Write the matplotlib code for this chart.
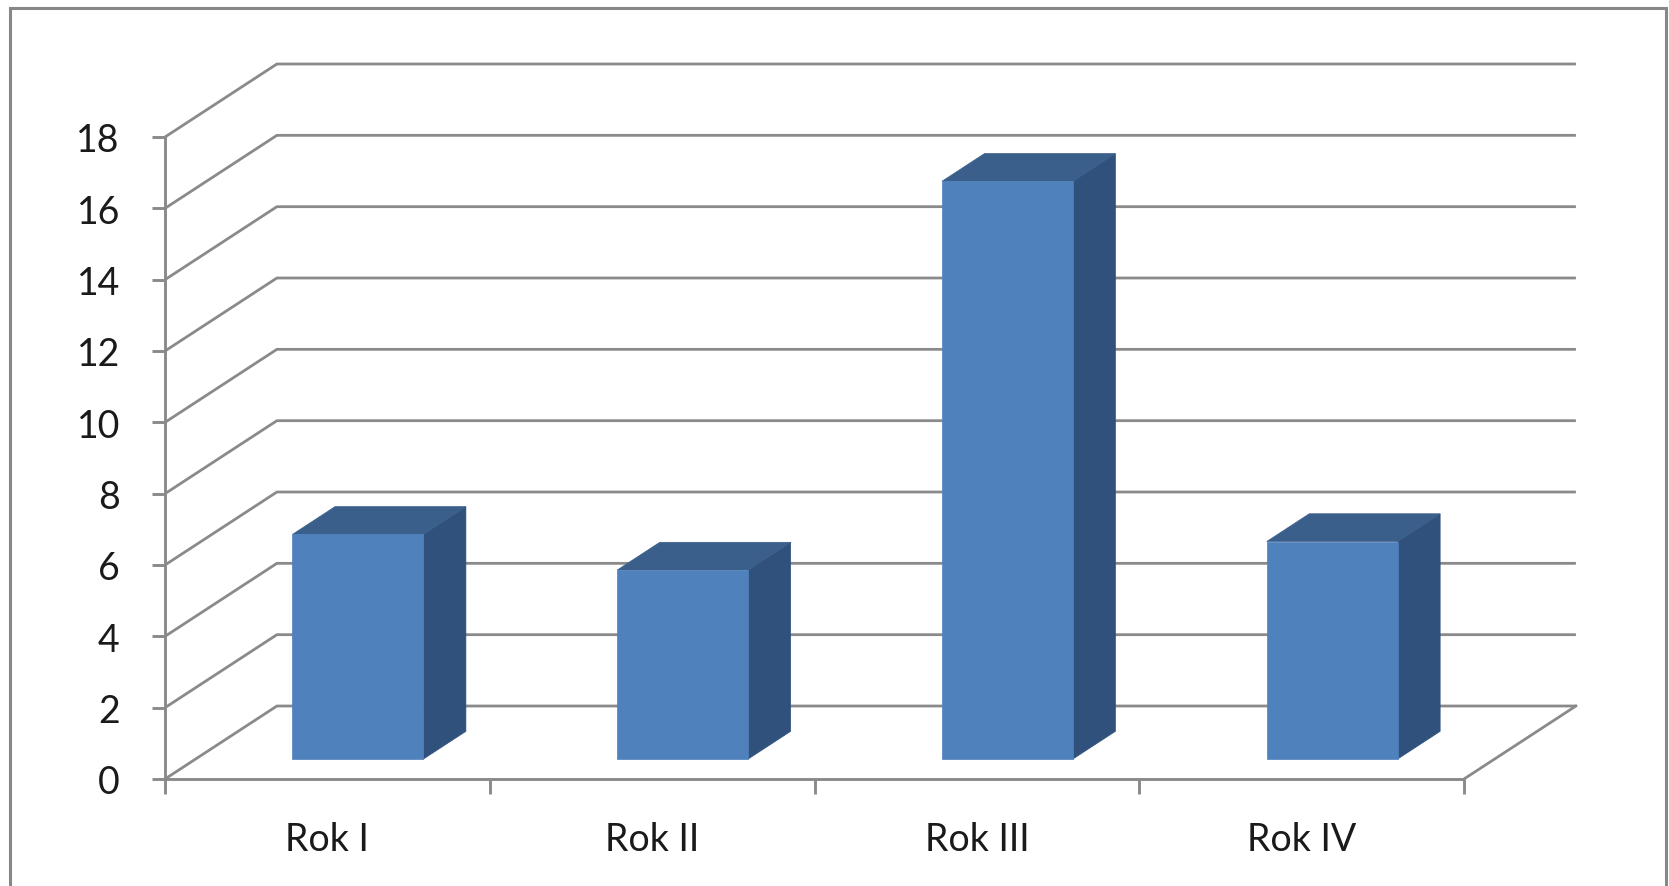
import matplotlib.pyplot as plt
from matplotlib.patches import Polygon, Rectangle

categories = ["Rok I", "Rok II", "Rok III", "Rok IV"]
values = [6.3, 5.3, 16.2, 6.1]
y_ticks = list(range(0, 20, 2))

W, H = 1669, 887
GRID = "#8a8a8a"
FRONT = "#4f81bd"
TOP = "#3b5f8b"
SIDE = "#30517b"

# oblique depth of the floor / back wall, in data units
ddx, ddy = 112 / 325, 73 / 35.67
bar_w = 0.403
front_frac, bar_depth = 0.273, 0.38

plt.rcParams['font.family'] = ['Lato', 'DejaVu Sans']

fig = plt.figure(figsize=(W / 100, H / 100), dpi=100)
ax = fig.add_axes([165 / W, (H - 780) / H, (1464 - 165) / W, (780 - 138) / H])
ax.set_xlim(0, len(categories))
ax.set_ylim(0, 18)

for s in ["top", "right"]:
    ax.spines[s].set_visible(False)
for s in ["left", "bottom"]:
    ax.spines[s].set_color(GRID)
    ax.spines[s].set_linewidth(2.1)

ax.set_yticks(y_ticks)
ax.set_yticklabels([str(t) for t in y_ticks])
ax.set_xticks(range(len(categories) + 1))
ax.set_xticklabels([])
ax.tick_params(axis="y", length=9.5, width=2.1, color=GRID, pad=23,
               labelsize=27, labelcolor="#1a1a1a")
ax.tick_params(axis="x", length=11, width=2.1, color=GRID)

# back wall gridlines and floor
n = len(categories)
for t in y_ticks:
    ax.plot([0, ddx, n + ddx], [t, t + ddy, t + ddy], color=GRID, lw=2.0,
            clip_on=False, zorder=1, solid_capstyle="butt")
ax.plot([n, n + ddx], [0, ddy], color=GRID, lw=2.0, clip_on=False, zorder=1)

# 3d-looking columns
fx, fy = front_frac * ddx, front_frac * ddy
bx, by = bar_depth * ddx, bar_depth * ddy
for i, v in enumerate(values):
    x0 = i + 0.5 - bar_w / 2 + fx
    x1 = x0 + bar_w
    front = [(x0, fy), (x1, fy), (x1, fy + v), (x0, fy + v)]
    top = [(x0, fy + v), (x1, fy + v), (x1 + bx, fy + v + by), (x0 + bx, fy + v + by)]
    side = [(x1, fy), (x1 + bx, fy + by), (x1 + bx, fy + v + by), (x1, fy + v)]
    for pts, c in [(side, SIDE), (top, TOP), (front, FRONT)]:
        ax.add_patch(Polygon(pts, closed=True, fc=c, ec=c, lw=0.5,
                             clip_on=False, zorder=3))

for i, c in enumerate(categories):
    ax.text(i + 0.5, -1.68, c, ha="center", va="center", fontsize=27,
            color="#1a1a1a", clip_on=False)

fig.add_artist(Rectangle((10 / W, -0.05), (1666 - 10) / W, (H - 9) / H + 0.05,
                         transform=fig.transFigure, fill=False, ec="#878787", lw=2.2))

plt.savefig("out.png", dpi=100)
